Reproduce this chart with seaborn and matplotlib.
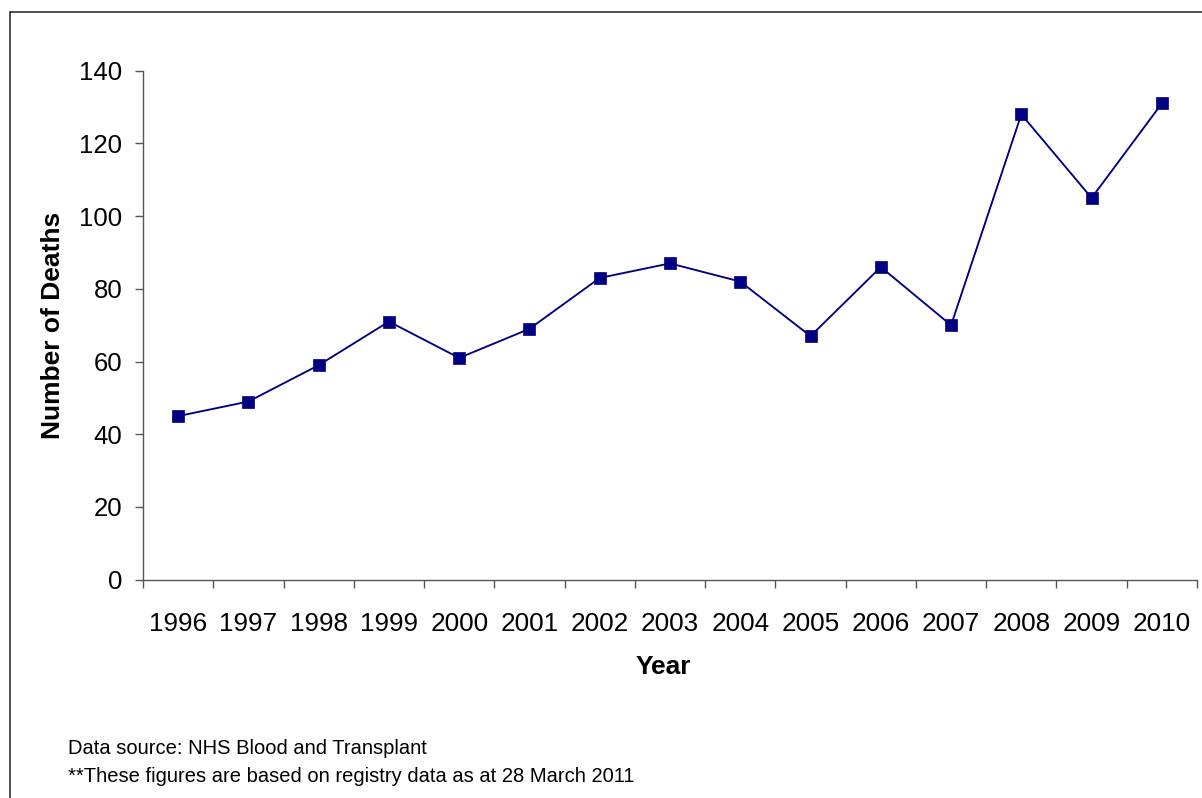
import matplotlib
matplotlib.use("Agg")
import matplotlib.pyplot as plt
from matplotlib.ticker import FixedLocator, NullFormatter
from matplotlib.lines import Line2D
import seaborn as sns
import pandas as pd

# ---- data ----
years = ["1996", "1997", "1998", "1999", "2000", "2001", "2002", "2003",
         "2004", "2005", "2006", "2007", "2008", "2009", "2010"]
deaths = [45, 49, 59, 71, 61, 69, 83, 87, 82, 67, 86, 70, 128, 105, 131]
y_ticks = [0, 20, 40, 60, 80, 100, 120, 140]

x_label = "Year"
y_label = "Number of Deaths"
note1 = "Data source: NHS Blood and Transplant"
note2 = "**These figures are based on registry data as at 28 March 2011"

df = pd.DataFrame({"Year": years, "Deaths": deaths})

sns.set_style("white")
plt.rcParams["font.family"] = ["Liberation Sans", "DejaVu Sans"]
plt.rcParams["text.color"] = "black"

W, H = 1202, 798
fig = plt.figure(figsize=(W / 100, H / 100), dpi=100)
fig.patch.set_facecolor("white")

x0, x1 = 143, 1197
y_top, y_bot = 70.7, 579.7
ax = fig.add_axes([x0 / W, 1 - y_bot / H, (x1 - x0) / W, (y_bot - y_top) / H])

navy = "#000080"
sns.pointplot(data=df, x="Year", y="Deaths", color=navy, markers="s",
              linestyles="-", markersize=8, linewidth=1.35,
              errorbar=None, ax=ax)
for ln in ax.lines:
    ln.set_markeredgecolor(navy)
    ln.set_markeredgewidth(0.5)

ax.set_xlim(-0.5, len(years) - 0.5)
ax.set_ylim(0, 140)
ax.set_yticks(y_ticks)
ax.set_yticklabels([str(v) for v in y_ticks])

axis_col = "#555555"
for s in ["top", "right"]:
    ax.spines[s].set_visible(False)
for s in ["left", "bottom"]:
    ax.spines[s].set_color(axis_col)
    ax.spines[s].set_linewidth(1.0)

# x: tick marks between categories, labels centred
ax.xaxis.set_minor_locator(FixedLocator([i - 0.5 for i in range(len(years) + 1)]))
ax.xaxis.set_minor_formatter(NullFormatter())
ax.tick_params(axis="x", which="major", bottom=True, length=0, pad=23,
               labelsize=18.8, labelcolor="black")
ax.tick_params(axis="x", which="minor", bottom=True, direction="out",
               length=5.8, width=1.0, color=axis_col)
ax.tick_params(axis="y", which="major", left=True, direction="out",
               length=5.8, width=1.0, color=axis_col, pad=9, labelsize=18.5,
               labelcolor="black")
ax.grid(False)

ax.set_xlabel("")
ax.set_ylabel("")

fig.text(52.7 / W, 1 - 325 / H, y_label, rotation=90, ha="center",
         va="center", fontsize=19, fontweight="bold", color="black")
fig.text(663 / W, 1 - 674 / H, x_label, ha="center", va="baseline",
         fontsize=19, fontweight="bold", color="black")

fig.text(68 / W, 1 - 754.3 / H, note1, ha="left", va="baseline",
         fontsize=14.5, color="black")
fig.text(68 / W, 1 - 782.5 / H, note2, ha="left", va="baseline",
         fontsize=14.5, color="black")

# chart-area frame (left and top edges visible)
frame_col = "#333333"
fig.add_artist(Line2D([9.5 / W, 9.5 / W], [0, 1 - 12 / H],
                      transform=fig.transFigure, color=frame_col, lw=1.2))
fig.add_artist(Line2D([9.5 / W, 1], [1 - 12 / H, 1 - 12 / H],
                      transform=fig.transFigure, color=frame_col, lw=1.2))

fig.savefig("out.png", dpi=100, facecolor="white")
